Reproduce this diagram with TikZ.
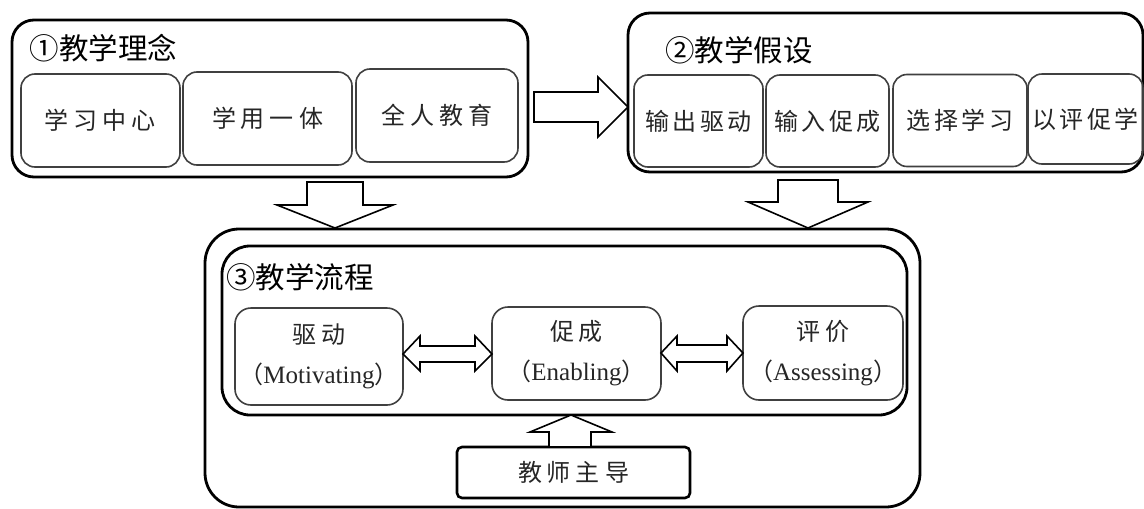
\documentclass[tikz,border=0pt]{standalone}
\usepackage{fontspec}
\setmainfont{Liberation Serif}
\newfontfamily\cjk{Noto Sans CJK SC}
\newcommand{\cjkgap}{\hspace{5pt}}
\newcommand{\cjkgapb}{\hspace{3.5pt}}
\newcommand{\latw}[1]{{\rmfamily\fontsize{25}{40}\selectfont #1}}
\begin{document}
\begin{tikzpicture}[x=1pt,y=-1pt,
  outerbox/.style={draw=black, line width=2.8pt, rounded corners=22pt, inner sep=0pt, outer sep=0pt},
  innerbox/.style={draw=black!75, line width=1.6pt, rounded corners=14pt, inner sep=0pt, outer sep=0pt,
     font=\cjk\fontsize{24}{28}\selectfont, text=black!85},
  stagebox/.style={draw=black!75, line width=1.6pt, rounded corners=16pt, inner sep=0pt, outer sep=0pt,
     font=\cjk\fontsize{24}{40}\selectfont, text=black!85, align=center},
  titletext/.style={anchor=west, inner sep=0pt, outer sep=0pt, font=\cjk\fontsize{29.5}{32}\selectfont},
  blockarrow/.style={draw=black, line width=1.6pt, fill=white, line join=miter}]
\useasboundingbox (0,0) rectangle (1144,509);
\fill[white] (0,0) rectangle (1144,509);

% Box 1
\node[outerbox, minimum width=516pt, minimum height=157pt] (box1) at (270,98.5) {};
\node[titletext] (t1) at (30,48) {①教学理念};
\node[innerbox, minimum width=159pt, minimum height=93pt] (a1) at (100.5,120.5) {学\cjkgap 习\cjkgap 中\cjkgap 心};
\node[innerbox, minimum width=169pt, minimum height=93pt] (a2) at (267.5,118.5) {学\cjkgap 用\cjkgap 一\cjkgap 体};
\node[innerbox, minimum width=162pt, minimum height=93pt] (a3) at (437,115.5) {全\cjkgap 人\cjkgap 教\cjkgap 育};

% Box 2
\node[outerbox, minimum width=515pt, minimum height=159pt] (box2) at (885.5,92.5) {};
\node[titletext] (t2) at (665,50) {②教学假设};
\node[innerbox, minimum width=129pt, minimum height=92pt] (b1) at (698.5,121) {输\cjkgapb 出\cjkgapb 驱\cjkgapb 动};
\node[innerbox, minimum width=123pt, minimum height=92pt] (b2) at (827.5,121) {输\cjkgapb 入\cjkgapb 促\cjkgapb 成};
\node[innerbox, minimum width=134pt, minimum height=92pt] (b3) at (960,120.5) {选\cjkgapb 择\cjkgapb 学\cjkgapb 习};
\node[innerbox, minimum width=115pt, minimum height=90pt] (b4) at (1085.5,119) {以\cjkgapb 评\cjkgapb 促\cjkgapb 学};

% Box 3
\node[outerbox, rounded corners=34pt, minimum width=715pt, minimum height=278pt] (box3) at (562.5,368) {};
\node[outerbox, rounded corners=28pt, minimum width=685pt, minimum height=169pt] (box3in) at (564.5,330.5) {};
\node[titletext] (t3) at (226,277) {③教学流程};
\node[stagebox, minimum width=168pt, minimum height=97pt] (c1) at (319,356.5) {驱\cjkgap 动\\{\cjk（}\latw{Motivating}{\cjk）}};
\node[stagebox, minimum width=169pt, minimum height=93pt] (c2) at (576.5,353.5) {促\cjkgap 成\\{\cjk（}\latw{Enabling}{\cjk）}};
\node[stagebox, minimum width=160pt, minimum height=94pt] (c3) at (823,353) {评\cjkgap 价\\{\cjk（}\latw{Assessing}{\cjk）}};

% Teacher box
\node[draw=black, line width=2.6pt, rounded corners=5pt, inner sep=0pt, outer sep=0pt,
  minimum width=233pt, minimum height=51pt, font=\cjk\fontsize{24}{28}\selectfont, text=black!85]
  (teach) at (573.5,472.5) {教\cjkgap 师\cjkgap 主\cjkgap 导};

% Block arrows
\draw[blockarrow] (534,92) -- (598,92) -- (598,77) -- (628,107) -- (598,137) -- (598,122) -- (534,122) -- cycle;
\draw[blockarrow] (307,182) -- (363,182) -- (363,205) -- (393,205) -- (335,228) -- (277,205) -- (307,205) -- cycle;
\draw[blockarrow] (778,180) -- (838,180) -- (838,202) -- (868,202) -- (808,228) -- (748,202) -- (778,202) -- cycle;
\draw[blockarrow] (403,354) -- (420,336) -- (420,346) -- (475,346) -- (475,336) -- (492,354) -- (475,371) -- (475,362) -- (420,362) -- (420,371) -- cycle;
\draw[blockarrow] (661,353) -- (677,336) -- (677,345) -- (727,345) -- (727,336) -- (743,353) -- (727,371) -- (727,362) -- (677,362) -- (677,371) -- cycle;
\draw[blockarrow] (571,415) -- (612,432) -- (591,432) -- (591,447) -- (549,447) -- (549,432) -- (530,432) -- cycle;
\end{tikzpicture}
\end{document}
